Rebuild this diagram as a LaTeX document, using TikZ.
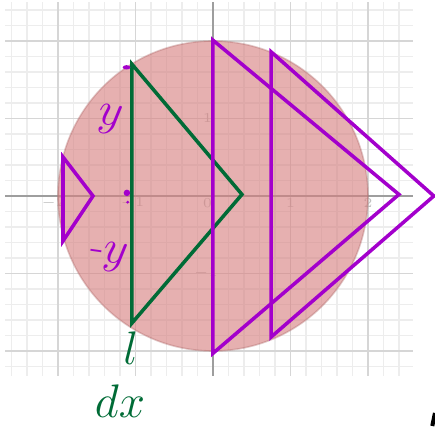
\documentclass[tikz,border=0pt]{standalone}
\usepackage{amsmath, amssymb}
\usepackage[dvipsnames]{xcolor}
\usepackage{tikz}
\usetikzlibrary{calc,positioning}
\definecolor{darkpurple}{rgb}{0.64,0,0.80}
\definecolor{darkgreen}{rgb}{0,0.42,0.21}
\definecolor{discred}{rgb}{0.84,0.50,0.50}

\begin{document}
\begin{tikzpicture}[scale=1]
              \useasboundingbox (-2.748,-2.968) rectangle (2.865,2.529);
              % Draw the grid and axes
              \draw[step=0.2,black!7,line width=0.45pt] (-2.68,-2.32) grid (2.58,2.50);
              \draw[step=1.0,black!16,line width=0.6pt] (-2.68,-2.32) grid (2.58,2.50);
              \draw[black!38,line width=0.6pt] (-2.68,0) -- (2.58,0);
              \draw[black!38,line width=0.6pt] (0,-2.32) -- (0,2.50);
              % label the ticks
              \node[black!25,font=\fontsize{4}{4}\selectfont] (tm2) at (-2.06,-0.09) {$-2$};
              \node[black!25,font=\fontsize{4}{4}\selectfont] (tm1) at (-1.04,-0.09) {$-1$};
              \node[black!25,font=\fontsize{4}{4}\selectfont] (t0) at (-0.07,-0.09) {$0$};
              \node[black!25,font=\fontsize{4}{4}\selectfont] (t1) at (1.0,-0.09) {$1$};
              \node[black!25,font=\fontsize{4}{4}\selectfont] (t2) at (2.0,-0.09) {$2$};
              \node[black!25,font=\fontsize{4}{4}\selectfont] (u1) at (-0.07,1.0) {$1$};
              \node[black!25,font=\fontsize{4}{4}\selectfont] (um1) at (-0.09,-1.0) {$-1$};
              % Draw the disc
              \draw[fill=discred,fill opacity=0.62,draw=discred!80!black,draw opacity=0.35,line width=0.6pt] (0,0) circle (2);
              % Draw the triangles
              \draw[darkpurple,line width=1.3pt,line join=miter] (-1.935,0.503) -- (-1.548,0) -- (-1.935,-0.58) -- cycle;
              \draw[darkgreen,line width=1.3pt,line join=miter] (-1.045,1.70) -- (0.374,0.02) -- (-1.045,-1.64) -- cycle;
              \draw[darkpurple,line width=1.3pt,line join=miter] (0,2.01) -- (2.40,0.02) -- (0,-2.03) -- cycle;
              \draw[darkpurple,line width=1.3pt,line join=miter] (0.75,1.86) -- (2.85,0) -- (0.75,-1.82) -- cycle;
              % Purple marks
              \fill[darkpurple] (-1.115,1.66) ellipse (0.05 and 0.028);
              \fill[darkpurple] (-1.11,0.04) circle (0.042);
              \fill[darkpurple] (-1.10,-0.08) circle (0.02);
              % label the widths
              \node[darkpurple,font=\fontsize{16}{16}\selectfont,rotate=-8] (yup) at (-1.33,0.98) {$y$};
              \node[darkpurple,font=\fontsize{16}{16}\selectfont,rotate=-8] (ydown) at (-1.35,-0.78) {$\text{-}y$};
              \node[darkgreen,font=\fontsize{18}{18}\selectfont] (ell) at (-1.06,-1.96) {$l$};
              \node[darkgreen,font=\fontsize{19}{19}\selectfont] (dx) at (-1.2,-2.65) {$dx$};
              % edge fragment
              \draw[black,line width=1.5pt] (2.83,-2.968) -- (2.865,-2.80);
          \end{tikzpicture}
\end{document}
